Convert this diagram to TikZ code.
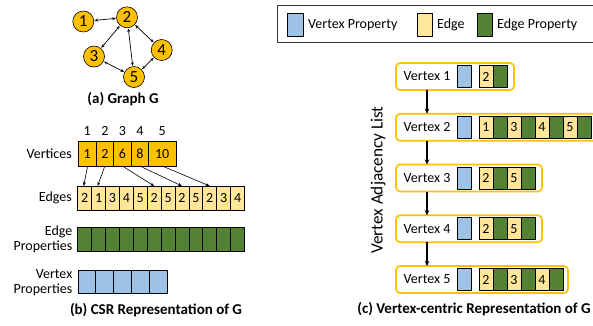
\documentclass[tikz,border=0pt]{standalone}
\usepackage{fontspec}
\setmainfont{Carlito}
\usetikzlibrary{arrows.meta}
\definecolor{gold}{HTML}{FFC000}
\definecolor{lyellow}{HTML}{FFE699}
\definecolor{dgreen}{HTML}{548235}
\definecolor{lblue}{HTML}{9DC3E6}
\begin{document}
\begin{tikzpicture}[x=1pt,y=-1pt,
  txt/.style={font=\fontsize{14}{16}\selectfont,inner sep=0pt},
  captxt/.style={font=\fontsize{15}{16}\bfseries\selectfont,inner sep=0pt},
  gnode/.style={circle,draw=black,line width=0.6pt,fill=gold,minimum size=21pt,inner sep=0pt,font=\fontsize{17}{17}\selectfont},
  garrow/.style={line width=0.7pt,{Stealth[length=3.5pt,width=3pt]}-{Stealth[length=3.5pt,width=3pt]},shorten <=0.5pt,shorten >=0.5pt},
  cell/.style={draw=black,line width=0.7pt,inner sep=0pt,outer sep=0pt,anchor=north west,font=\fontsize{14}{16}\selectfont},
  vcell/.style={cell,fill=gold,minimum height=25pt},
  ecell/.style={cell,fill=lyellow,minimum width=13.9pt,minimum height=24pt},
  pcell/.style={cell,fill=dgreen,minimum width=13.9pt,minimum height=24pt},
  bcell/.style={cell,fill=lblue,minimum width=17.8pt,minimum height=23pt},
  ptr/.style={line width=0.6pt,-{Stealth[length=4pt,width=3pt]}},
  listbox/.style={draw=gold,line width=1.6pt,rounded corners=4pt,inner sep=0pt,outer sep=0pt,anchor=north west,minimum height=27pt},
  lcell/.style={cell,minimum width=14pt,minimum height=22pt},
  downarr/.style={line width=1.3pt,-{Stealth[length=5pt,width=4.5pt]}}
]
\useasboundingbox (0,0) rectangle (593,325);

% ---------- (a) Graph G ----------
\node[gnode] (n1) at (83.3,21.5) {1};
\node[gnode] (n2) at (127,17.3) {2};
\node[gnode] (n3) at (94,56.5) {3};
\node[gnode] (n4) at (161.7,50) {4};
\node[gnode] (n5) at (134,77) {5};
\draw[garrow] (n1) -- (n2);
\draw[garrow] (n2) -- (n3);
\draw[garrow] (n2) -- (n5);
\draw[garrow] (n2) -- (n4);
\draw[garrow] (n3) -- (n5);
\draw[garrow] (n4) -- (n5);
\node[captxt] (capa) at (123,99) {(a) Graph G};

% ---------- (b) CSR ----------
\node[vcell,minimum width=17.7pt] (v1) at (78.3,141) {1};
\node[vcell,minimum width=17.7pt] (v2) at (96,141) {2};
\node[vcell,minimum width=17.7pt] (v3) at (113.5,141) {6};
\node[vcell,minimum width=17.7pt] (v4) at (131,141) {8};
\node[vcell,minimum width=27.4pt] (v5) at (148.5,141) {10};
\foreach \i in {1,...,5}{
  \node[txt] (idx\i) at ([yshift=10pt]v\i.north) {\i};
}
\node[txt,anchor=east] (lvert) at (72,153.5) {Vertices};

\foreach \l [count=\k from 0] in {2,1,3,4,5,2,5,2,5,2,3,4}{
  \node[ecell] (e\k) at (77.7+13.9*\k,186) {\l};
  \node[pcell] (p\k) at (77.7+13.9*\k,227) {};
}
\foreach \k in {0,...,4}{
  \node[bcell] (b\k) at (78+17.8*\k,270) {};
}
\node[txt,anchor=east] (ledge) at (72,198) {Edges};
\node[txt,anchor=east,align=right,font=\fontsize{14}{15}\selectfont] (lep) at (72.5,239) {Edge\\Properties};
\node[txt,anchor=east,align=right,font=\fontsize{14}{15}\selectfont] (lvp) at (72.5,282.5) {Vertex\\Properties};

\draw[ptr] ([xshift=0.5pt]v1.south) -- ([xshift=-1pt]e0.north);
\draw[ptr] (v2.south) -- ([xshift=-1pt]e1.north);
\draw[ptr] (v3.south) -- (e5.north);
\draw[ptr] (v4.south) -- (e7.north);
\draw[ptr] (v5.south) -- (e9.north);
\node[captxt] (capb) at (156,310) {(b) CSR Representation of G};

% ---------- legend ----------
\draw[line width=0.7pt,draw=black!80] (277,5) rectangle (596,42);
\node[cell,fill=lblue,minimum width=15.5pt,minimum height=23pt] (sw1) at (287.5,13) {};
\node[txt,anchor=west] (lg1) at (308,25) {Vertex Property};
\node[cell,fill=lyellow,minimum width=15pt,minimum height=23pt] (sw2) at (417,13) {};
\node[txt,anchor=west] (lg2) at (437,25) {Edge};
\node[cell,fill=dgreen,minimum width=15pt,minimum height=23pt] (sw3) at (477,13) {};
\node[txt,anchor=west] (lg3) at (497,25) {Edge Property};

% ---------- (c) Vertex-centric ----------
\node[txt,rotate=90,font=\fontsize{17.2}{18}\selectfont] (vadj) at (378,180) {Vertex Adjacency List};

\foreach \i/\y/\w in {1/63/118,2/113.75/201,3/164.5/146,4/215.25/146,5/266/172}{
  \node[listbox,minimum width=\w pt] (L\i) at (396,\y) {};
  \node[txt] (vl\i) at (427,\y+13.5) {Vertex \i};
  \node[lcell,fill=lblue] (bl\i) at (457,\y+2.5) {};
}
% Vertex 1
\node[lcell,fill=lyellow] (c1a) at (479,63+2.5) {2};
\node[lcell,fill=dgreen] (c1b) at (493,63+2.5) {};
% Vertex 2
\foreach \l [count=\k from 0] in {1,3,4,5}{
  \node[lcell,fill=lyellow] (c2y\k) at (479+28*\k,113.75+2.5) {\l};
  \node[lcell,fill=dgreen] (c2g\k) at (493+28*\k,113.75+2.5) {};
}
% Vertex 3
\foreach \l [count=\k from 0] in {2,5}{
  \node[lcell,fill=lyellow] (c3y\k) at (479+28*\k,164.5+2.5) {\l};
  \node[lcell,fill=dgreen] (c3g\k) at (493+28*\k,164.5+2.5) {};
}
% Vertex 4
\foreach \l [count=\k from 0] in {2,5}{
  \node[lcell,fill=lyellow] (c4y\k) at (479+28*\k,215.25+2.5) {\l};
  \node[lcell,fill=dgreen] (c4g\k) at (493+28*\k,215.25+2.5) {};
}
% Vertex 5
\foreach \l [count=\k from 0] in {2,3,4}{
  \node[lcell,fill=lyellow] (c5y\k) at (479+28*\k,266+2.5) {\l};
  \node[lcell,fill=dgreen] (c5g\k) at (493+28*\k,266+2.5) {};
}
\draw[downarr] (vl1 |- L1.south) -- (vl2 |- L2.north);
\draw[downarr] (vl2 |- L2.south) -- (vl3 |- L3.north);
\draw[downarr] (vl3 |- L3.south) -- (vl4 |- L4.north);
\draw[downarr] (vl4 |- L4.south) -- (vl5 |- L5.north);
\node[captxt] (capc) at (474,309) {(c) Vertex-centric Representation of G};
\end{tikzpicture}
\end{document}
